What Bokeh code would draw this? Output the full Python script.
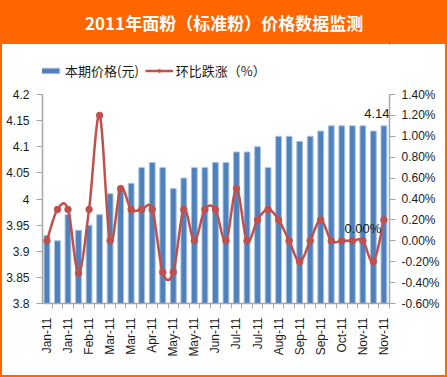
import numpy as np
from bokeh.plotting import figure
from bokeh.models import (Range1d, LinearAxis, FixedTicker, Legend, LegendItem,
                          ColumnDataSource, Label)
from bokeh.layouts import column
from bokeh.embed import file_html
from bokeh.resources import INLINE
from bokeh.core.properties import value

# ---------------- data ----------------
title_text = "2011年面粉（标准粉）价格数据监测"
series_price_name = "本期价格(元)"
series_pct_name = "环比跌涨（%）"

x_tick_labels = ["Jan-11", "Jan-11", "Feb-11", "Mar-11", "Mar-11", "Apr-11",
                 "May-11", "May-11", "Jun-11", "Jul-11", "Jul-11", "Aug-11",
                 "Sep-11", "Sep-11", "Oct-11", "Nov-11", "Nov-11"]

price = [3.93, 3.92, 3.97, 3.94, 3.95, 3.97, 4.01, 4.02, 4.03, 4.06, 4.07,
         4.06, 4.02, 4.04, 4.06, 4.06, 4.07, 4.07, 4.09, 4.09, 4.10, 4.06,
         4.12, 4.12, 4.11, 4.12, 4.13, 4.14, 4.14, 4.14, 4.14, 4.13, 4.14]

pct = [0.00, 0.30, 0.30, -0.31, 0.30, 1.20, 0.00, 0.50, 0.30, 0.30, 0.30,
       -0.30, -0.30, 0.30, 0.00, 0.30, 0.30, 0.00, 0.50, 0.00, 0.20, 0.30,
       0.20, 0.00, -0.20, 0.00, 0.20, 0.00, 0.00, 0.00, 0.00, -0.20, 0.20]

left_ticks = [3.8, 3.85, 3.9, 3.95, 4.0, 4.05, 4.1, 4.15, 4.2]
left_tick_labels = ["3.8", "3.85", "3.9", "3.95", "4", "4.05", "4.1", "4.15", "4.2"]
right_ticks = [-0.6, -0.4, -0.2, 0.0, 0.2, 0.4, 0.6, 0.8, 1.0, 1.2, 1.4]
right_tick_labels = ["-0.60%", "-0.40%", "-0.20%", "0.00%", "0.20%", "0.40%",
                     "0.60%", "0.80%", "1.00%", "1.20%", "1.40%"]

idx = list(range(len(price)))
label_price_index = len(price) - 1
label_pct_index = 30

# ------------- smoothed path through the pct points (drawing only) -------------
def smooth_path(xs, ys, n=14):
    xs = np.asarray(xs, float)
    ys = np.asarray(ys, float)
    px = np.concatenate([[xs[0]], xs, [xs[-1]]])
    py = np.concatenate([[ys[0]], ys, [ys[-1]]])
    ox, oy = [], []
    m = len(xs) - 1
    for i in range(m):
        p0 = np.array([px[i], py[i]])
        p1 = np.array([px[i + 1], py[i + 1]])
        p2 = np.array([px[i + 2], py[i + 2]])
        p3 = np.array([px[i + 3], py[i + 3]])
        c1 = p1 + (p2 - p0) / 6.0
        c2 = p2 - (p3 - p1) / 6.0
        t = np.linspace(0, 1, n, endpoint=(i == m - 1))
        b = ((1 - t) ** 3)[:, None] * p1 + (3 * (1 - t) ** 2 * t)[:, None] * c1 \
            + (3 * (1 - t) * t ** 2)[:, None] * c2 + (t ** 3)[:, None] * p2
        ox.extend(b[:, 0])
        oy.extend(b[:, 1])
    return ox, oy

sx, sy = smooth_path(idx, pct)

ORANGE = "#FF6600"
BLUE = "#4F81BD"
BAR_EDGE = "#A9C1DF"
RED = "#C0504D"
AXIS_C = "#A6A6A6"
TXT = "#1a1a1a"

W_INNER = 443
B_LEFT, B_RIGHT = 40, 56
FRAME_W = W_INNER - B_LEFT - B_RIGHT

src = ColumnDataSource(dict(x=idx, price=price, pct=pct))
line_src = ColumnDataSource(dict(x=sx, y=sy))

# ---------------- title strip ----------------
# figures in the column share the same frame columns; map the whole strip to 0..1
t = figure(width=447, height=44,
           x_range=Range1d(B_LEFT / W_INNER, (B_LEFT + FRAME_W) / W_INNER),
           y_range=Range1d(0, 1),
           toolbar_location=None, output_backend="svg", min_border=0,
           x_axis_location=None, y_axis_location=None,
           background_fill_color=ORANGE, border_fill_color=ORANGE,
           outline_line_color=None)
t.grid.visible = False
t.add_layout(Label(x=0.5, y=0.5, text=title_text, text_align="center",
                   text_baseline="middle", text_color="white",
                   text_font="Noto Sans CJK SC", text_font_style="bold",
                   text_font_size="17px"))

# ---------------- legend strip ----------------
# The strip's ranges lie outside the data, so only the legend itself shows.
lg = figure(width=W_INNER, height=40, x_range=Range1d(-100, -99),
            y_range=Range1d(-100, -99),
            toolbar_location=None, output_backend="svg", min_border=0,
            x_axis_location=None, y_axis_location=None,
            background_fill_color="white", border_fill_color="white",
            outline_line_color=None, styles={"background-color": "white"})
lg.margin = (0, 2, 0, 2)
lg.grid.visible = False
lg_bar = lg.vbar(x="x", top="price", width=0.55, source=src,
                 fill_color=BLUE, line_color=BAR_EDGE)
lg_line = lg.line(x="x", y="y", source=line_src, line_color=RED, line_width=2.5)
lg_pts = lg.scatter(x="x", y="pct", source=src, size=6.5,
                    fill_color=RED, line_color=RED)
legend = Legend(items=[LegendItem(label=series_price_name, renderers=[lg_bar]),
                       LegendItem(label=series_pct_name, renderers=[lg_line, lg_pts])],
                orientation="horizontal", location=(-8, 4),
                label_text_font="Noto Sans CJK SC", label_text_font_size="13px",
                label_text_color=TXT,
                glyph_width=28, glyph_height=7, label_standoff=3, spacing=6,
                padding=0, margin=0, border_line_color=None,
                background_fill_alpha=0)
lg.add_layout(legend)

# ---------------- main chart ----------------
p = figure(width=W_INNER, height=291, x_range=Range1d(-0.42, 32.53),
           y_range=Range1d(3.8, 4.2), toolbar_location=None,
           output_backend="svg", min_border_left=B_LEFT, min_border_right=B_RIGHT,
           min_border_top=10, min_border_bottom=72,
           background_fill_color="white", border_fill_color="white",
           outline_line_color=None, styles={"background-color": "white"})
p.margin = (0, 2, 2, 2)
p.grid.visible = False
p.extra_y_ranges = {"pct": Range1d(-0.6, 1.4)}

bars = p.vbar(x="x", top="price", width=0.55, source=src,
              fill_color=BLUE, line_color=BAR_EDGE, line_width=1)
line_r = p.line(x="x", y="y", source=line_src, y_range_name="pct",
                line_color=RED, line_width=2.5)
pts = p.scatter("x", "pct", source=src, y_range_name="pct", size=6.5,
                fill_color=RED, line_color=RED)

# data labels
p.text(x=[idx[label_price_index]], y=[price[label_price_index]],
       text=[f"{price[label_price_index]:.2f}"], text_align="center",
       text_baseline="bottom", x_offset=-7, y_offset=-8,
       text_font=value("Liberation Sans"), text_font_size="13px",
       text_color=TXT)
p.text(x=[idx[label_pct_index]], y=[pct[label_pct_index]],
       text=[f"{pct[label_pct_index]:.2f}%"], y_range_name="pct",
       text_align="center", text_baseline="bottom", x_offset=0, y_offset=-5,
       text_font=value("Liberation Sans"), text_font_size="13px",
       text_color=TXT)

# x axis
xa = p.xaxis[0]
xa.ticker = FixedTicker(ticks=list(range(0, len(price), 2)),
                        minor_ticks=[i - 0.5 for i in range(len(price) + 1)])
xa.major_label_overrides = {i * 2: lab for i, lab in enumerate(x_tick_labels)}
xa.major_label_orientation = np.pi / 2
xa.major_tick_out = 0
xa.major_tick_in = 0
xa.minor_tick_out = 5
xa.minor_tick_in = 0
xa.minor_tick_line_color = AXIS_C
xa.axis_line_color = AXIS_C
xa.axis_line_width = 1.5
xa.major_label_standoff = 9
xa.major_label_text_font = "Liberation Sans"
xa.major_label_text_font_size = "12px"
xa.major_label_text_color = TXT

# left axis
ya = p.yaxis[0]
ya.ticker = FixedTicker(ticks=left_ticks)
ya.major_label_overrides = dict(zip(left_ticks, left_tick_labels))
ya.minor_tick_line_color = None
ya.major_tick_in = 0
ya.major_tick_out = 6
ya.major_tick_line_color = AXIS_C
ya.axis_line_color = AXIS_C
ya.axis_line_width = 1.5
ya.major_label_standoff = 7
ya.major_label_text_font = "Liberation Sans"
ya.major_label_text_font_size = "12px"
ya.major_label_text_color = TXT

# right axis
ra = LinearAxis(y_range_name="pct", ticker=FixedTicker(ticks=right_ticks))
ra.major_label_overrides = dict(zip(right_ticks, right_tick_labels))
ra.minor_tick_line_color = None
ra.major_tick_in = 0
ra.major_tick_out = 6
ra.major_tick_line_color = AXIS_C
ra.axis_line_color = AXIS_C
ra.axis_line_width = 1.5
ra.major_label_standoff = 6
ra.major_label_text_font = "Liberation Sans"
ra.major_label_text_font_size = "12px"
ra.major_label_text_color = TXT
p.add_layout(ra, "right")

layout = column(t, lg, p, spacing=0, styles={"background-color": ORANGE})

with open("out.html", "w") as f:
    f.write(file_html(layout, INLINE))
